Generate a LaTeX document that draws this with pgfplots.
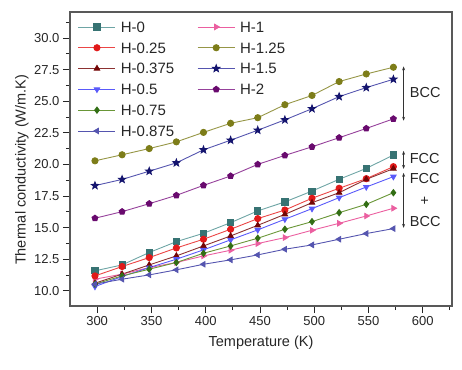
\documentclass[border=0pt]{standalone}
\usepackage{pgfplots}
\pgfplotsset{compat=1.18}
\usepackage{fontspec}
\setmainfont{Liberation Sans}
\usetikzlibrary{arrows.meta}

\definecolor{tealM}{RGB}{55,115,115}
\definecolor{tealL}{RGB}{110,165,165}
\definecolor{redM}{RGB}{225,25,25}
\definecolor{redL}{RGB}{235,70,70}
\definecolor{marM}{RGB}{115,5,5}
\definecolor{marL}{RGB}{140,50,50}
\definecolor{bluM}{RGB}{25,25,250}
\definecolor{bluL}{RGB}{90,90,250}
\definecolor{grnM}{RGB}{50,110,20}
\definecolor{grnL}{RGB}{105,150,55}
\definecolor{navM}{RGB}{20,20,110}
\definecolor{navL}{RGB}{85,85,175}
\definecolor{pnkM}{RGB}{230,30,130}
\definecolor{pnkL}{RGB}{235,95,160}
\definecolor{oliM}{RGB}{125,125,25}
\definecolor{oliL}{RGB}{150,150,70}
\definecolor{purM}{RGB}{105,10,110}
\definecolor{purL}{RGB}{150,65,155}

\pgfdeclareplotmark{fstar}{%
  \pgfpathmoveto{\pgfpointpolar{90}{1.2\pgfplotmarksize}}%
  \pgfpathlineto{\pgfpointpolar{126}{0.5\pgfplotmarksize}}%
  \pgfpathlineto{\pgfpointpolar{162}{1.2\pgfplotmarksize}}%
  \pgfpathlineto{\pgfpointpolar{198}{0.5\pgfplotmarksize}}%
  \pgfpathlineto{\pgfpointpolar{234}{1.2\pgfplotmarksize}}%
  \pgfpathlineto{\pgfpointpolar{270}{0.5\pgfplotmarksize}}%
  \pgfpathlineto{\pgfpointpolar{306}{1.2\pgfplotmarksize}}%
  \pgfpathlineto{\pgfpointpolar{342}{0.5\pgfplotmarksize}}%
  \pgfpathlineto{\pgfpointpolar{18}{1.2\pgfplotmarksize}}%
  \pgfpathlineto{\pgfpointpolar{54}{0.5\pgfplotmarksize}}%
  \pgfpathclose\pgfusepathqfillstroke}

\pgfplotsset{
  ser/.style n args={3}{color=#1, line width=0.9pt, mark=#3, mark size=3.1pt,
     mark options={solid, fill=#2, draw=#2}},
}

\begin{document}
\begin{tikzpicture}
\path[use as bounding box] (-70pt,-63pt) rectangle (392pt,306pt);
\begin{axis}[
  at={(0,0)}, anchor=south west,
  scale only axis, width=382pt, height=294pt,
  xmin=275, xmax=627, ymin=8.8, ymax=32.05,
  xtick={300,350,...,600},
  ytick={10,12.5,...,30},
  minor xtick={325,375,...,625},
  minor ytick={8.75,11.25,...,31.25},
  tick align=outside, tick pos=left,
  major tick length=7pt, minor tick length=4pt,
  axis line style={gray!70!black, line width=1.1pt},
  every tick/.style={gray!30!black, line width=0.8pt},
  /pgf/number format/assume math mode=true,
  yticklabel style={/pgf/number format/.cd, fixed, fixed zerofill, precision=1},
  xticklabel style={/pgf/number format/.cd, fixed, precision=0, 1000 sep={}},
  tick label style={font=\fontsize{13}{15}\selectfont, text=black!85},
  label style={font=\fontsize{14.5}{17}\selectfont, text=black!85},
  xlabel={Temperature (K)},
  ylabel={Thermal conductivity (W/m.K)},
  xlabel style={at={(axis description cs:0.5,0)}, anchor=center, yshift=-36.7pt},
  ylabel style={at={(axis description cs:-0.126,0.463)}, anchor=center},
  legend columns=2,
  legend cell align=left,
  legend image code/.code={\draw[mark repeat=2,mark phase=2] plot coordinates {(0cm,0cm) (0.65cm,0cm) (1.3cm,0cm)};},
  legend style={draw=none, fill=none, at={(axis description cs:0.021,0.967)}, anchor=north west,
     inner sep=0pt, outer sep=0pt, font=\fontsize{15}{17}\selectfont, text=black!85,
     row sep=10.3pt,
     nodes={inner sep=0pt, text height=10.5pt, text depth=0pt},
     /tikz/every odd column/.append style={column sep=5pt},
     /tikz/every even column/.append style={column sep=23pt}},
  clip=false,
]
\addplot[ser={tealL}{tealM}{square*}] coordinates {(298,11.58) (323,12.05) (348,13.03) (373,13.89) (398,14.55) (423,15.39) (448,16.32) (473,17.03) (498,17.89) (523,18.82) (548,19.68) (573,20.74)};
\addlegendentry{H-0}
\addplot[ser={pnkL}{pnkM}{triangle*}, mark options={rotate=-90}] coordinates {(298,10.92) (323,11.32) (348,11.84) (373,12.24) (398,12.76) (423,13.21) (448,13.74) (473,14.21) (498,14.79) (523,15.34) (548,15.92) (573,16.53)};
\addlegendentry{H-1}
\addplot[ser={redL}{redM}{*}] coordinates {(298,11.18) (323,11.92) (348,12.63) (373,13.39) (398,14.08) (423,14.87) (448,15.71) (473,16.39) (498,17.32) (523,18.11) (548,18.87) (573,19.82)};
\addlegendentry{H-0.25}
\addplot[ser={oliL}{oliM}{*}] coordinates {(298,20.28) (323,20.76) (348,21.25) (373,21.78) (398,22.53) (423,23.25) (448,23.69) (473,24.72) (498,25.45) (523,26.55) (548,27.15) (573,27.68)};
\addlegendentry{H-1.25}
\addplot[ser={marL}{marM}{triangle*}] coordinates {(298,10.6) (323,11.32) (348,12.05) (373,12.76) (398,13.55) (423,14.34) (448,15.18) (473,16.05) (498,16.97) (523,17.76) (548,18.82) (573,19.66)};
\addlegendentry{H-0.375}
\addplot[ser={navL}{navM}{fstar}] coordinates {(298,18.32) (323,18.81) (348,19.46) (373,20.12) (398,21.15) (423,21.91) (448,22.7) (473,23.52) (498,24.4) (523,25.36) (548,26.07) (573,26.73)};
\addlegendentry{H-1.5}
\addplot[ser={bluL}{bluM}{triangle*}, mark options={rotate=180}] coordinates {(298,10.34) (323,11.13) (348,11.84) (373,12.5) (398,13.24) (423,14.03) (448,14.82) (473,15.66) (498,16.5) (523,17.37) (548,18.21) (573,19.03)};
\addlegendentry{H-0.5}
\addplot[ser={purL}{purM}{pentagon*}] coordinates {(298,15.74) (323,16.26) (348,16.89) (373,17.55) (398,18.34) (423,19.08) (448,20.0) (473,20.71) (498,21.39) (523,22.11) (548,22.84) (573,23.6)};
\addlegendentry{H-2}
\addplot[ser={grnL}{grnM}{diamond*}] coordinates {(298,10.53) (323,11.18) (348,11.71) (373,12.24) (398,12.97) (423,13.55) (448,14.16) (473,14.87) (498,15.47) (523,16.18) (548,16.84) (573,17.76)};
\addlegendentry{H-0.75}
\addlegendimage{empty legend}
\addlegendentry{}
\addplot[ser={navL}{navM}{triangle*}, mark options={rotate=90}] coordinates {(298,10.53) (323,10.92) (348,11.26) (373,11.66) (398,12.1) (423,12.45) (448,12.84) (473,13.29) (498,13.63) (523,14.08) (548,14.53) (573,14.92)};
\addlegendentry{H-0.875}

\draw[{Stealth[length=4pt]}-{Stealth[length=4pt]}, black!80, line width=0.7pt] (axis cs:582.4,27.75) -- (axis cs:582.4,23.45);
\draw[{Stealth[length=4pt]}-{Stealth[length=4pt]}, black!80, line width=0.7pt] (axis cs:582.4,21.07) -- (axis cs:582.4,19.64);
\draw[{Stealth[length=4pt]}-{Stealth[length=4pt]}, black!80, line width=0.7pt] (axis cs:582.4,19.33) -- (axis cs:582.4,14.98);
\node[anchor=west, inner sep=0pt, font=\fontsize{14.5}{17}\selectfont, text=black!85] at (axis cs:588,25.7) {BCC};
\node[anchor=west, inner sep=0pt, font=\fontsize{14.5}{17}\selectfont, text=black!85] at (axis cs:588,20.5) {FCC};
\node[anchor=west, inner sep=0pt, font=\fontsize{14.5}{17}\selectfont, text=black!85] at (axis cs:588,18.85) {FCC};
\node[anchor=center, inner sep=0pt, font=\fontsize{14.5}{17}\selectfont, text=black!85] at (axis cs:601.7,17.1) {+};
\node[anchor=west, inner sep=0pt, font=\fontsize{14.5}{17}\selectfont, text=black!85] at (axis cs:588,15.5) {BCC};
\end{axis}
\end{tikzpicture}
\end{document}
